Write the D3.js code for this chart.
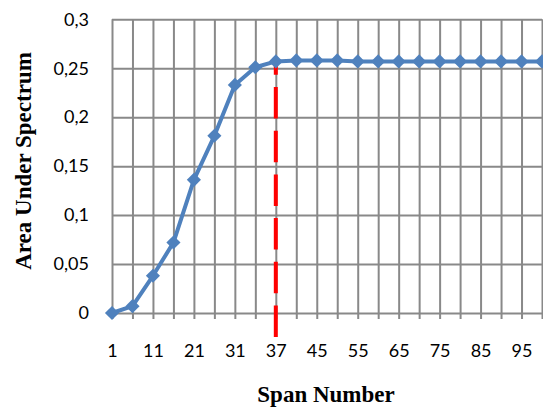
<!DOCTYPE html>
<html>
<head>
<meta charset="utf-8">
<script src="https://cdn.jsdelivr.net/npm/d3@7"></script>
<style>
  html, body { margin: 0; padding: 0; background: #fff; }
  svg { display: block; }
  .tick text { font-family: Lato, "Open Sans", sans-serif; font-size: 18px; fill: #000; }
  .axis-title { font-family: "Liberation Serif", "Times New Roman", serif; font-weight: bold; font-size: 23px; fill: #000; }
</style>
</head>
<body>
<div id="chart"></div>
<script>
  var spans = [1, 6, 11, 16, 21, 26, 31, 34, 37, 41, 45, 50, 55, 60, 65, 70, 75, 80, 85, 90, 95, 100];
  var area = [0, 0.007, 0.038, 0.072, 0.136, 0.181, 0.233, 0.251, 0.257, 0.258, 0.258, 0.258, 0.257, 0.257, 0.257, 0.257, 0.257, 0.257, 0.257, 0.257, 0.257, 0.257];
  var xLabels = [1, 11, 21, 31, 37, 45, 55, 65, 75, 85, 95];
  var yTicks = [0, 0.05, 0.1, 0.15, 0.2, 0.25, 0.3];
  var cutoffSpan = 37;

  var width = 543, height = 408;
  var plotLeft = 112, plotRight = 542, plotTop = 19.3, plotBottom = 313;

  var svg = d3.select('#chart').append('svg')
    .attr('width', width)
    .attr('height', height);

  var x = d3.scalePoint()
    .domain(spans)
    .range([plotLeft, plotRight]);

  var y = d3.scaleLinear()
    .domain([0, 0.3])
    .range([plotBottom, plotTop]);

  var comma = d3.formatLocale({decimal: ',', thousands: '.', grouping: [3], currency: ['', '']}).format('.2~f');

  //horizontal grid + y labels
  var yAxis = svg.append('g')
    .attr('transform', 'translate(' + plotLeft + ',0)')
    .call(d3.axisLeft(y).tickValues(yTicks).tickSize(-(plotRight - plotLeft)).tickPadding(23).tickFormat(comma));
  yAxis.select('.domain').remove();
  yAxis.selectAll('.tick line').attr('stroke', '#898989').attr('stroke-width', 2);

  //vertical grid + x labels
  var xAxis = svg.append('g')
    .attr('transform', 'translate(0,' + plotBottom + ')')
    .call(d3.axisBottom(x).tickFormat(function(d) { return xLabels.indexOf(d) > -1 ? d : ''; }));
  xAxis.select('.domain').remove();
  xAxis.selectAll('.tick line')
    .attr('y1', 6)
    .attr('y2', -(plotBottom - plotTop))
    .attr('stroke', '#898989')
    .attr('stroke-width', 2);
  xAxis.selectAll('.tick text').attr('y', 44).attr('dy', 0);

  //cutoff line
  svg.append('line')
    .attr('x1', x(cutoffSpan))
    .attr('x2', x(cutoffSpan))
    .attr('y1', plotBottom + 24)
    .attr('y2', y(area[spans.indexOf(cutoffSpan)]) + 1)
    .attr('stroke', '#ff0000')
    .attr('stroke-width', 4)
    .attr('stroke-dasharray', '31.5,12.2');

  //series line
  var line = d3.line()
    .x(function(d, i) { return x(spans[i]); })
    .y(function(d) { return y(d); });

  svg.append('path')
    .datum(area)
    .attr('d', line)
    .attr('fill', 'none')
    .attr('stroke', '#4f81bd')
    .attr('stroke-width', 4)
    .attr('stroke-linejoin', 'round');

  //diamond markers
  svg.selectAll('.marker')
    .data(area)
    .enter().append('path')
      .attr('class', 'marker')
      .attr('d', d3.symbol(d3.symbolSquare, 100))
      .attr('transform', function(d, i) { return 'translate(' + x(spans[i]) + ',' + y(d) + ') rotate(45)'; })
      .attr('fill', '#4f81bd');

  //axis titles
  svg.append('text')
    .attr('class', 'axis-title')
    .attr('text-anchor', 'middle')
    .attr('transform', 'translate(31,161) rotate(-90)')
    .text('Area Under Spectrum');

  svg.append('text')
    .attr('class', 'axis-title')
    .attr('text-anchor', 'middle')
    .attr('x', 326)
    .attr('y', 402)
    .text('Span Number');
</script>
</body>
</html>
